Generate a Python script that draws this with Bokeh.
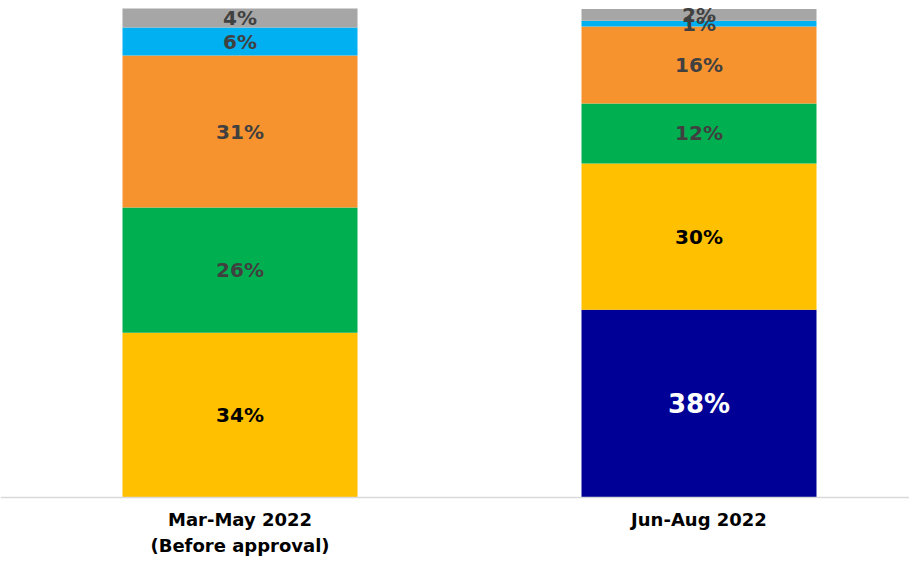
import numpy as np
from bokeh.plotting import figure
from bokeh.models import ColumnDataSource, Range1d, Span
from bokeh.core.properties import value
from bokeh.embed import file_html
from bokeh.resources import INLINE

# ---- data (percent shares, bottom to top) ----
categories = ["Mar-May 2022\n(Before approval)", "Jun-Aug 2022"]
series_names = ["s1", "s2", "s3", "s4", "s5", "s6"]
s1 = [0.0, 38.4]    # navy
s2 = [33.7, 29.9]   # yellow
s3 = [25.6, 12.3]   # green
s4 = [31.1, 15.7]   # orange
s5 = [5.7, 1.2]     # light blue
s6 = [3.9, 2.4]     # gray

series = [s1, s2, s3, s4, s5, s6]
colors = ["#000096", "#ffc000", "#00b050", "#f7932f", "#00b0f0", "#a6a6a6"]
label_colors = ["#ffffff", "#000000", "#404040", "#404040", "#404040", "#404040"]
label_sizes = ["26px", "20px", "20px", "20px", "20px", "20px"]

W, H = 909, 558
p = figure(width=W, height=H, output_backend="svg", toolbar_location=None,
           x_range=Range1d(-0.5218, 1.4586), y_range=Range1d(-12.47, 101.64),
           min_border_left=0, min_border_right=0, min_border_top=0, min_border_bottom=0)
p.axis.visible = False
p.grid.visible = False
p.outline_line_color = None
p.background_fill_color = "white"

xs = np.arange(len(categories))
bottom = np.zeros(len(categories))
lx, ly, lt, lc, ls = [], [], [], [], []
for vals, col, tc, fs in zip(series, colors, label_colors, label_sizes):
    v = np.array(vals, dtype=float)
    top = bottom + v
    src = ColumnDataSource(dict(x=xs, bottom=bottom, top=top))
    p.vbar(x="x", bottom="bottom", top="top", width=0.512, source=src,
           fill_color=col, line_color=None)
    for i in range(len(categories)):
        if v[i] > 0:
            lx.append(xs[i]); ly.append((bottom[i] + top[i]) / 2)
            lt.append(f"{round(v[i])}%"); lc.append(tc); ls.append(fs)
    bottom = top

p.add_layout(Span(location=0, dimension="width", line_color="#d9d9d9", line_width=1.5))

lsrc = ColumnDataSource(dict(x=lx, y=ly, t=lt, c=lc, s=ls))
p.text(x="x", y="y", text="t", source=lsrc, text_align="center", text_baseline="middle",
       text_color="c", text_font_size="s", text_font=value("DejaVu Sans"),
       text_font_style="bold")

csrc = ColumnDataSource(dict(x=xs, y=[-2.3] * len(categories), t=categories))
p.text(x="x", y="y", text="t", source=csrc, text_align="center", text_baseline="top",
       text_color="#000000", text_font_size="18px", text_font=value("DejaVu Sans"),
       text_font_style="bold", text_line_height=1.25)

open("out.html", "w").write(file_html(p, INLINE))
